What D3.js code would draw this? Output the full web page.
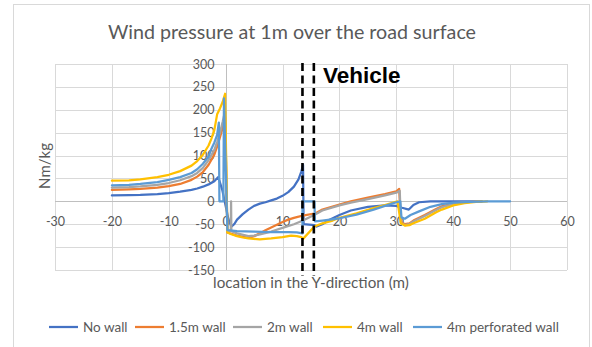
<!DOCTYPE html>
<html>
<head>
<meta charset="utf-8">
<script src="https://cdn.jsdelivr.net/npm/d3@7"></script>
<style>
  html, body { margin: 0; padding: 0; background: #fff; }
  svg { display: block; }
  text { font-family: Lato, "Open Sans", sans-serif; }
</style>
</head>
<body>
<svg id="chart" width="592" height="347"></svg>
<script>
// Wind pressure profiles, [location (m), pressure (Nm/kg)]
const noWall = [[-20,13],[-17,13.5],[-15,14],[-12,16],[-10,18],[-8,21],[-6,25],[-5,28],[-4,32],[-3,37],[-2,44],[-1.3,53],[-0.6,25],[0,-10],[0.5,-40],[1,-55],[1.5,-50],[2,-40],[3,-28],[4,-18],[5,-10],[6,-5],[7,-2],[8,2],[9,6],[10,12],[11,20],[12,32],[12.8,48],[13.3,65],[13.6,80],[13.7,-50],[15.6,-52],[16,-55],[17,-50],[18,-42],[20,-30],[22,-20],[25,-12],[28,-9],[30,-10],[31,-14],[32.2,-18],[33,-8],[34,-2],[36,0],[40,0],[45,0]];
const wall15 = [[-20,25],[-17,26],[-15,27],[-12,30],[-10,33],[-8,38],[-6,47],[-5,54],[-4,64],[-3,80],[-2,102],[-1.5,120],[-1,140],[-0.5,162],[-0.1,183],[0.3,-68],[2,-75],[4,-80],[5,-76],[6,-70],[7,-63],[8,-57],[9,-51],[10,-45],[11,-40],[12,-36],[13,-33],[13.6,-31],[15.8,-26],[17,-18],[20,-7],[22,0],[25,8],[28,16],[30,22],[30.5,27],[30.8,-45],[31.5,-50],[32.3,-48],[33,-42],[35,-30],[37,-17],[38,-11],[40,-5],[42,-2],[45,0]];
const wall2 = [[-20,30],[-17,31],[-15,32.5],[-12,36],[-10,40],[-8,46],[-6,55],[-5,62],[-4,73],[-3,90],[-2,112],[-1.5,130],[-1,150],[-0.5,175],[-0.1,198],[0.3,-65],[0.9,-64],[0.95,0],[1.0,-65],[2,-70],[4,-76],[5,-75],[6,-72],[8,-66],[10,-58],[12,-50],[13.6,-42],[15.8,-28],[17,-20],[20,-9],[22,-3],[25,5],[28,13],[30,19],[30.6,23],[30.8,-47],[31.5,-52],[32.3,-50],[33,-44],[35,-32],[37,-19],[38,-13],[40,-6],[42,-2],[45,0]];
const wall4 = [[-20,45],[-17,46],[-15,48],[-12,53],[-10,58],[-8,66],[-6,78],[-5,88],[-4,102],[-3,122],[-2.5,137],[-2,155],[-1.5,190],[-1,203],[-0.5,218],[-0.1,235],[0.3,-68],[1,-72],[2,-76],[3,-79],[4,-81],[6,-83],[8,-81],[10,-78],[11.5,-75],[12.5,-76],[13.3,-78],[13.6,-82],[15.6,-55],[17,-48],[18.8,-42],[20,-36],[23,-26],[26,-15],[28,-8],[30.2,0],[30.8,-48],[31.5,-53],[32.3,-52],[33,-48],[35,-38],[37,-24],[38,-18],[40,-9],[42,-4],[44,-1],[46,0]];
const wallPerf = [[-20,35],[-17,36],[-15,38],[-12,42],[-10,47],[-8,53],[-6,62],[-5,70],[-4,82],[-3,98],[-2.5,115],[-2,128],[-1.5,145],[-1.2,172],[-1.1,0],[-0.4,0],[-0.3,225],[0.3,-63],[2,-65],[5,-66],[8,-67],[11,-67],[12.5,-68],[13.5,-70],[13.5,0],[15.6,0],[15.7,-44],[17,-42],[20,-37],[23,-29],[26,-18],[28,-10],[30,-2],[30.7,0],[30.9,-35],[31.5,-38],[32.5,-30],[34,-22],[36,-12],[38,-6],[40,-3],[43,-1],[46,0],[50,0]];

const seriesNames = ["No wall", "1.5m wall", "2m wall", "4m wall", "4m perforated wall"];
const seriesColors = ["#4472C4", "#ED7D31", "#A5A5A5", "#FFC000", "#5B9BD5"];
const seriesData = [noWall, wall15, wall2, wall4, wallPerf];

const xTicks = [-30, -20, -10, 0, 10, 20, 30, 40, 50, 60];
const yTicks = [-150, -100, -50, 0, 50, 100, 150, 200, 250, 300];
const vehicleEdges = [13.5, 15.5];

const svg = d3.select("#chart");
const textColor = "#595959";

// chart frame
svg.append("rect")
  .attr("x", 13.5).attr("y", 4.5)
  .attr("width", 576).attr("height", 360)
  .attr("fill", "#fff").attr("stroke", "#d9d9d9").attr("stroke-width", 1);

const x = d3.scaleLinear().domain([-30, 60]).range([55, 567]);
const y = d3.scaleLinear().domain([-150, 300]).range([270, 64]);

// gridlines
const grid = svg.append("g");
grid.selectAll("line.v").data(xTicks).join("line")
  .attr("x1", d => Math.round(x(d)) + 0.5).attr("x2", d => Math.round(x(d)) + 0.5)
  .attr("y1", y(300)).attr("y2", y(-150))
  .attr("stroke", "#d9d9d9").attr("stroke-width", 1);
grid.selectAll("line.h").data(yTicks).join("line")
  .attr("y1", d => Math.round(y(d)) + 0.5).attr("y2", d => Math.round(y(d)) + 0.5)
  .attr("x1", x(-30)).attr("x2", x(60))
  .attr("stroke", "#d9d9d9").attr("stroke-width", 1);

// axes crossing at zero
const fmt = d => String(d);
const xAxis = d3.axisBottom(x).tickValues(xTicks).tickFormat(fmt).tickSize(0).tickPadding(16);
const yAxis = d3.axisLeft(y).tickValues(yTicks).tickFormat(fmt).tickSize(0).tickPadding(12);
const gx = svg.append("g").attr("transform", `translate(0,${Math.round(y(0)) + 0.5})`).call(xAxis);
const gy = svg.append("g").attr("transform", `translate(${Math.round(x(0)) + 0.5},0)`).call(yAxis);
[gx, gy].forEach(g => {
  g.select(".domain").attr("stroke", "#bfbfbf").attr("stroke-width", 1);
  g.selectAll("text").attr("fill", textColor).attr("font-size", 12.5)
    .style("font-family", "Lato, sans-serif");
});
gx.select(".domain").attr("d", `M${x(-30)},0H${x(60)}`);
gy.select(".domain").attr("d", `M0,${y(300)}V${y(-150)}`);

// series lines
const line = d3.line().x(d => x(d[0])).y(d => y(d[1]));
svg.append("g").selectAll("path").data(seriesData).join("path")
  .attr("d", line)
  .attr("fill", "none")
  .attr("stroke", (d, i) => seriesColors[i])
  .attr("stroke-width", 2.25)
  .attr("stroke-linejoin", "round")
  .attr("stroke-linecap", "round");

// vehicle boundaries
svg.append("g").selectAll("line").data(vehicleEdges).join("line")
  .attr("x1", d => x(d)).attr("x2", d => x(d))
  .attr("y1", 63).attr("y2", 276)
  .attr("stroke", "#000").attr("stroke-width", 2.6)
  .attr("stroke-dasharray", "8,4.5");
svg.append("text")
  .attr("x", 323).attr("y", 83)
  .attr("font-size", 22.5).attr("font-weight", "bold")
  .style("font-family", "'Liberation Sans', Arial, sans-serif")
  .attr("fill", "#000")
  .text("Vehicle");

// titles
svg.append("text")
  .attr("x", 292).attr("y", 39)
  .attr("text-anchor", "middle")
  .attr("font-size", 19.7).attr("fill", textColor)
  .text("Wind pressure at 1m over the road surface");
svg.append("text")
  .attr("x", 311).attr("y", 288)
  .attr("text-anchor", "middle")
  .attr("font-size", 15.2).attr("fill", textColor)
  .text("location in the Y-direction (m)");
svg.append("text")
  .attr("transform", `translate(50,166) rotate(-90)`)
  .attr("text-anchor", "middle")
  .attr("font-size", 15).attr("fill", textColor)
  .text("Nm/kg");

// legend
const legendX = [49, 135, 233, 323, 413];
const legend = svg.append("g");
seriesNames.forEach((name, i) => {
  legend.append("line")
    .attr("x1", legendX[i]).attr("x2", legendX[i] + 29)
    .attr("y1", 327).attr("y2", 327)
    .attr("stroke", seriesColors[i]).attr("stroke-width", 2.25);
  legend.append("text")
    .attr("x", legendX[i] + 34).attr("y", 331.5)
    .attr("font-size", 13.5).attr("fill", textColor)
    .text(name);
});
</script>
</body>
</html>
